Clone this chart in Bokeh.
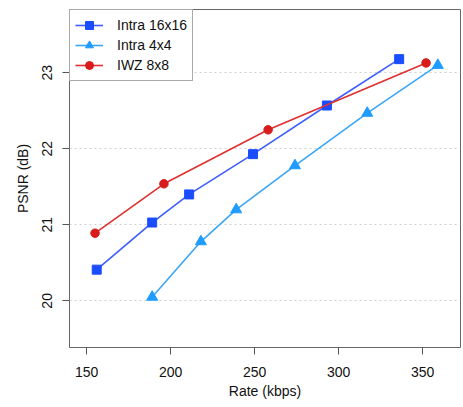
import numpy as np
from bokeh.plotting import figure
from bokeh.models import Range1d, Legend, LegendItem, FixedTicker
from bokeh.embed import file_html
from bokeh.resources import INLINE

# Data
intra16_rate = [156, 189, 211, 249, 293, 336]
intra16_psnr = [20.41, 21.03, 21.40, 21.93, 22.57, 23.18]
intra4_rate = [189, 218, 239, 274, 317, 359]
intra4_psnr = [20.05, 20.78, 21.20, 21.78, 22.47, 23.10]
iwz_rate = [155, 196, 258, 352]
iwz_psnr = [20.89, 21.54, 22.25, 23.13]

x_ticks = [150, 200, 250, 300, 350]
y_ticks = [20, 21, 22, 23]

FONT = "Liberation Sans"

p = figure(width=463, height=407, output_backend="svg", toolbar_location=None,
           x_range=Range1d(139.8, 372.5), y_range=Range1d(19.386, 23.833),
           min_border_left=69, min_border_right=3, min_border_top=9, min_border_bottom=60)

p.outline_line_color = "#666666"
p.outline_line_width = 1

p.xgrid.grid_line_color = None
p.ygrid.grid_line_color = "#cfcfcf"
p.ygrid.grid_line_dash = "2 3"
p.ygrid.grid_line_width = 1
p.ygrid.ticker = FixedTicker(ticks=y_ticks)

p.xaxis.ticker = FixedTicker(ticks=x_ticks)
p.yaxis.ticker = FixedTicker(ticks=y_ticks)
for ax in (p.xaxis[0], p.yaxis[0]):
    ax.axis_line_color = None
    ax.major_tick_line_color = "#555555"
    ax.major_tick_out = 7
    ax.major_tick_in = 0
    ax.minor_tick_line_color = None
    ax.major_label_text_font = FONT
    ax.major_label_text_font_size = "14px"
    ax.major_label_text_color = "#111111"
    ax.axis_label_text_font = FONT
    ax.axis_label_text_font_size = "14px"
    ax.axis_label_text_font_style = "normal"
    ax.axis_label_text_color = "#111111"

p.xaxis.axis_label = "Rate (kbps)"
p.yaxis.axis_label = "PSNR (dB)"
p.yaxis.major_label_orientation = "vertical"
p.xaxis.major_label_standoff = 12
p.xaxis.axis_label_standoff = 3
p.yaxis.major_label_standoff = 10
p.yaxis.axis_label_standoff = 9

c16_line, c16_fill = "#3d5eff", "#1a4dff"
c4_line, c4_fill = "#3aa6f7", "#1e9cff"
cr_line, cr_fill = "#e03030", "#d81c1c"

l16 = p.line(intra16_rate, intra16_psnr, line_color=c16_line, line_width=1.6)
m16 = p.scatter(intra16_rate, intra16_psnr, marker="square", size=9,
                fill_color=c16_fill, line_color=c16_fill)
l4 = p.line(intra4_rate, intra4_psnr, line_color=c4_line, line_width=1.6)
m4 = p.scatter(intra4_rate, intra4_psnr, marker="triangle", size=11,
               fill_color=c4_fill, line_color=c4_fill)
lr = p.line(iwz_rate, iwz_psnr, line_color=cr_line, line_width=1.6)
mr = p.scatter(iwz_rate, iwz_psnr, marker="circle", size=8.5,
               fill_color=cr_fill, line_color=cr_fill)

legend = Legend(items=[
    LegendItem(label="Intra 16x16", renderers=[l16, m16]),
    LegendItem(label="Intra 4x4", renderers=[l4, m4]),
    LegendItem(label="IWZ 8x8", renderers=[lr, mr]),
], location="top_left")
legend.margin = 0
legend.padding = 5
legend.spacing = -1
legend.label_height = 20
legend.glyph_height = 20
legend.glyph_width = 28
legend.label_standoff = 14
legend.label_text_font = FONT
legend.label_text_font_size = "14px"
legend.label_text_color = "#111111"
legend.border_line_color = "#555555"
legend.border_line_width = 1
legend.background_fill_color = "white"
legend.background_fill_alpha = 1
p.add_layout(legend, "center")

open("out.html", "w").write(file_html(p, INLINE))
